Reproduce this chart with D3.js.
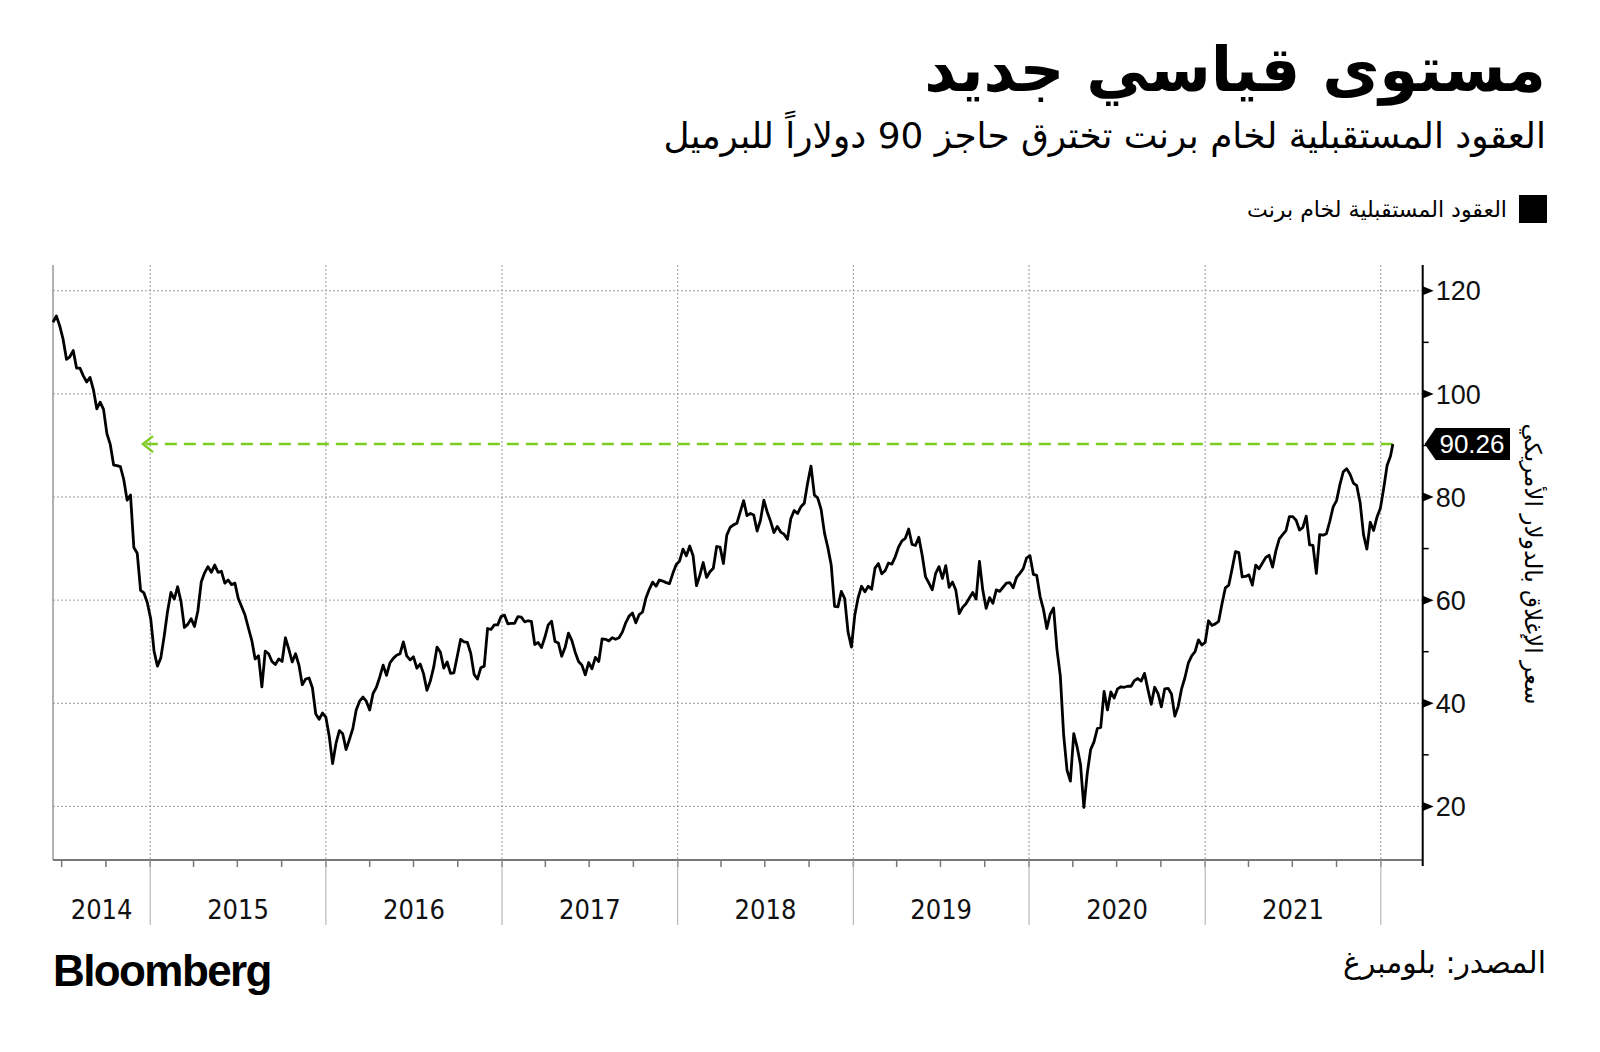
<!DOCTYPE html>
<html>
<head>
<meta charset="utf-8">
<script src="https://cdn.jsdelivr.net/npm/d3@7"></script>
<style>
  body { margin: 0; background: #fff; }
  svg { display: block; }
</style>
</head>
<body>
<script>
var width = 1600;
var height = 1052;

// texts
var title = "مستوى قياسي جديد";
var subtitle = "العقود المستقبلية لخام برنت تخترق حاجز 90 دولاراً للبرميل";
var legendLabel = "العقود المستقبلية لخام برنت";
var axisTitle = "سعر الإغلاق بالدولار الأمريكي";
var sourceText = "المصدر: بلومبرغ";

// Brent front-month, weekly (Fridays) starting from firstFriday
var firstFriday = "2014-06-13";
var brent2014 = [113.9, 115.1, 113.2, 110.6, 106.7, 107.2, 108.4, 105.0, 105.0, 103.5, 102.3, 103.2, 100.8, 97.1,
  98.4, 97.0, 92.3, 90.2, 86.2, 86.1, 85.9, 83.4, 79.4, 80.4, 70.2, 69.1, 61.9, 61.4, 59.5];
var brent2015 = [56.4, 50.1, 47.2, 48.8, 53.0, 57.8, 61.5, 60.2, 62.6, 59.7, 54.7, 55.3, 56.4, 54.9, 57.9, 63.5,
  65.3, 66.5, 65.4, 66.8, 65.4, 65.6, 63.3, 63.9, 63.0, 63.3, 60.3, 58.7, 57.1, 54.6, 52.2, 48.6, 49.2, 43.2,
  50.1, 49.6, 48.1, 47.5, 48.6, 48.1, 52.7, 50.5, 48.0, 49.6, 47.4, 43.6, 44.7, 44.9, 43.0, 37.9, 36.9, 38.1];
var brent2016 = [37.3, 33.6, 28.3, 32.2, 34.7, 34.1, 31.0, 33.0, 35.1, 38.7, 40.4, 41.2, 40.4, 38.7, 41.9, 43.1,
  45.1, 47.4, 45.4, 47.8, 48.7, 49.3, 49.6, 51.9, 49.2, 48.4, 49.0, 46.8, 47.6, 45.7, 42.5, 44.3, 47.0, 50.9,
  49.9, 46.8, 48.0, 45.8, 45.9, 49.1, 52.4, 51.9, 51.8, 49.7, 45.6, 44.7, 46.9, 47.2, 54.5, 54.3, 55.2, 55.2, 56.8];
var brent2017 = [57.1, 55.4, 55.5, 55.5, 56.8, 56.7, 55.8, 56.0, 55.9, 51.4, 51.8, 50.8, 52.8, 55.2, 55.9, 52.0,
  51.7, 49.1, 50.8, 53.6, 52.2, 49.9, 48.1, 47.4, 45.5, 47.9, 46.7, 48.9, 48.1, 52.5, 52.4, 52.1, 52.7, 52.4,
  52.7, 53.8, 55.6, 56.9, 57.5, 55.6, 57.2, 57.7, 60.4, 62.1, 63.5, 62.7, 63.9, 63.7, 63.4, 63.2, 65.2, 66.9];
var brent2018 = [67.6, 69.9, 68.6, 70.5, 68.6, 62.8, 64.8, 67.3, 64.4, 65.5, 66.2, 70.4, 70.3, 67.1, 72.6, 74.1,
  74.6, 74.9, 77.1, 79.3, 76.4, 76.8, 76.5, 73.4, 75.5, 79.4, 77.1, 75.3, 73.1, 74.3, 73.2, 72.8, 71.8, 75.8,
  77.4, 76.8, 78.1, 78.8, 82.7, 86.0, 80.4, 79.8, 77.6, 73.0, 70.2, 66.8, 58.8, 58.7, 61.7, 60.3, 53.8, 50.9];
var brent2019 = [57.1, 60.5, 62.7, 61.6, 62.7, 62.1, 66.2, 67.1, 65.1, 65.7, 67.2, 67.0, 68.4, 70.3, 71.5, 72.0,
  73.8, 70.8, 70.6, 72.2, 68.7, 64.5, 63.3, 62.0, 65.2, 66.5, 64.2, 66.7, 62.5, 63.5, 61.9, 57.4, 58.6, 59.3,
  60.4, 61.5, 60.2, 67.5, 61.9, 58.4, 60.5, 59.4, 62.0, 61.7, 62.5, 63.3, 63.4, 62.4, 64.4, 65.2, 66.1, 68.2];
var brent2020 = [68.6, 65.0, 64.8, 60.7, 58.2, 54.5, 57.3, 58.5, 50.5, 45.3, 33.8, 27.0, 24.9, 34.1, 31.5, 28.1,
  19.8, 26.4, 31.0, 32.5, 35.1, 35.3, 42.3, 38.7, 42.2, 41.0, 42.8, 43.2, 43.1, 43.3, 43.3, 44.4, 44.8, 44.3,
  45.8, 42.7, 39.8, 43.1, 41.9, 39.3, 42.8, 42.9, 41.8, 37.5, 39.4, 42.8, 45.0, 47.8, 49.2, 50.0, 52.3, 51.3];
var brent2021 = [51.8, 56.0, 55.1, 55.4, 55.9, 59.3, 62.4, 62.9, 66.1, 69.4, 69.2, 64.5, 64.6, 64.9, 62.9, 66.8,
  66.1, 67.2, 68.3, 68.7, 66.4, 69.6, 71.9, 72.7, 73.5, 76.2, 76.2, 75.5, 73.6, 74.1, 76.3, 70.7, 70.6, 65.2,
  72.7, 72.6, 72.9, 75.3, 78.1, 79.3, 82.4, 84.9, 85.5, 84.4, 82.7, 82.2, 78.9, 72.7, 69.9, 75.1, 73.5, 76.1, 77.8];
var brent2022 = [81.7, 86.1, 87.9];
var latestDate = "2022-01-26";
var latestValue = 90.26;
var arrowFromDate = "2014-12-17";

var domainStart = "2014-06-13";
var domainEnd = "2022-03-29";
var yDomain = [9.6, 125];
var yTicks = [20, 40, 60, 80, 100, 120];
var yMinorTicks = [30, 50, 70, 90, 110];
var years = [2014, 2015, 2016, 2017, 2018, 2019, 2020, 2021];

var parse = d3.timeParse("%Y-%m-%d");
var arabic = "'DejaVu Sans', sans-serif";
var latin = "'Liberation Sans', Arial, sans-serif";

var values = [].concat(brent2014, brent2015, brent2016, brent2017, brent2018, brent2019, brent2020, brent2021, brent2022);
var data = values.map(function(v, i) {
  return { date: d3.timeFriday.offset(parse(firstFriday), i), value: v };
});
data.push({ date: parse(latestDate), value: latestValue });

var plotLeft = 53, plotRight = 1422.7, plotTop = 265, plotBottom = 860;

var x = d3.scaleTime()
  .domain([parse(domainStart), parse(domainEnd)])
  .range([plotLeft, plotRight]);

var y = d3.scaleLinear()
  .domain(yDomain)
  .range([plotBottom, plotTop]);

var svg = d3.select("body").append("svg")
  .attr("width", width)
  .attr("height", height);

function fit(text, target) {
  var w = text.node().getComputedTextLength();
  var fs = parseFloat(text.attr("font-size"));
  text.attr("font-size", (fs * target / w).toFixed(2));
}

// header
var t = svg.append("text")
  .attr("x", 1546).attr("y", 91)
  .attr("text-anchor", "end")
  .attr("font-family", arabic).attr("font-weight", "bold")
  .attr("font-size", 56)
  .text(title);
fit(t, 622);

var st = svg.append("text")
  .attr("x", 1546).attr("y", 148)
  .attr("text-anchor", "end")
  .attr("font-family", arabic)
  .attr("font-size", 34)
  .text(subtitle);
fit(st, 883);

// legend
svg.append("rect")
  .attr("x", 1519).attr("y", 195)
  .attr("width", 28).attr("height", 28)
  .attr("fill", "#000");
var lt = svg.append("text")
  .attr("x", 1507).attr("y", 217)
  .attr("text-anchor", "end")
  .attr("font-family", arabic)
  .attr("font-size", 20)
  .text(legendLabel);
fit(lt, 260);

// grid
svg.append("g").selectAll("line")
  .data(yTicks)
  .enter().append("line")
  .attr("x1", plotLeft).attr("x2", plotRight)
  .attr("y1", function(d) { return y(d); })
  .attr("y2", function(d) { return y(d); })
  .style("stroke", "#999")
  .style("stroke-width", 1)
  .style("stroke-dasharray", "2,2");

var yearStarts = years.slice(1).concat([2022]).map(function(yr) { return new Date(yr, 0, 1); });

svg.append("g").selectAll("line")
  .data(yearStarts)
  .enter().append("line")
  .attr("x1", function(d) { return x(d); })
  .attr("x2", function(d) { return x(d); })
  .attr("y1", plotTop).attr("y2", plotBottom)
  .style("stroke", "#999")
  .style("stroke-width", 1)
  .style("stroke-dasharray", "2,2");

// left frame line
svg.append("line")
  .attr("x1", plotLeft).attr("x2", plotLeft)
  .attr("y1", plotTop).attr("y2", plotBottom)
  .style("stroke", "#999")
  .style("stroke-width", 1.5);

// bottom axis
svg.append("line")
  .attr("x1", plotLeft).attr("x2", plotRight)
  .attr("y1", plotBottom).attr("y2", plotBottom)
  .style("stroke", "#777")
  .style("stroke-width", 2);

var quarters = d3.timeMonth.every(3).range(x.domain()[0], x.domain()[1]);
svg.append("g").selectAll("line")
  .data(quarters)
  .enter().append("line")
  .attr("x1", function(d) { return x(d); })
  .attr("x2", function(d) { return x(d); })
  .attr("y1", plotBottom).attr("y2", plotBottom + 7)
  .style("stroke", "#777")
  .style("stroke-width", 1.5);

svg.append("g").selectAll("line")
  .data(yearStarts)
  .enter().append("line")
  .attr("x1", function(d) { return x(d); })
  .attr("x2", function(d) { return x(d); })
  .attr("y1", plotBottom).attr("y2", 925)
  .style("stroke", "#aaa")
  .style("stroke-width", 1);

svg.append("g").selectAll("text")
  .data(years)
  .enter().append("text")
  .attr("x", function(d) {
    var a = Math.max(x(new Date(d, 0, 1)), plotLeft);
    var b = x(new Date(d + 1, 0, 1));
    return (a + b) / 2;
  })
  .attr("y", 919)
  .attr("text-anchor", "middle")
  .attr("font-family", "'Liberation Sans Narrow', 'DejaVu Sans Condensed', sans-serif")
  .attr("font-size", 27)
  .attr("fill", "#111")
  .text(function(d) { return d; });

// right axis
svg.append("line")
  .attr("x1", plotRight).attr("x2", plotRight)
  .attr("y1", plotTop).attr("y2", plotBottom + 6)
  .style("stroke", "#000")
  .style("stroke-width", 2);

svg.append("g").selectAll("path")
  .data(yTicks)
  .enter().append("path")
  .attr("d", function(d) {
    var yy = y(d);
    return "M" + plotRight + "," + (yy - 4.5) + "L" + (plotRight + 11) + "," + yy + "L" + plotRight + "," + (yy + 4.5) + "Z";
  })
  .attr("fill", "#000");

svg.append("g").selectAll("line")
  .data(yMinorTicks)
  .enter().append("line")
  .attr("x1", plotRight).attr("x2", plotRight + 6)
  .attr("y1", function(d) { return y(d); })
  .attr("y2", function(d) { return y(d); })
  .style("stroke", "#000")
  .style("stroke-width", 1.5);

svg.append("g").selectAll("text")
  .data(yTicks)
  .enter().append("text")
  .attr("x", plotRight + 13)
  .attr("y", function(d) { return y(d); })
  .attr("dy", "0.36em")
  .attr("font-family", latin)
  .attr("font-size", 27)
  .attr("fill", "#111")
  .text(function(d) { return d; });

var at = svg.append("text")
  .attr("transform", "translate(1533,564) rotate(90)")
  .attr("text-anchor", "middle")
  .attr("dy", "0.35em")
  .attr("font-family", arabic)
  .attr("font-size", 22)
  .text(axisTitle);
fit(at, 281);

// reference line to the latest price
var ly = y(latestValue);
var ax = x(parse(arrowFromDate));
svg.append("line")
  .attr("x1", x(parse(latestDate))).attr("x2", ax)
  .attr("y1", ly).attr("y2", ly)
  .style("stroke", "#7ccc22")
  .style("stroke-width", 2.5)
  .style("stroke-dasharray", "12,7");
svg.append("path")
  .attr("d", "M" + (ax + 10) + "," + (ly - 8) + "L" + ax + "," + ly + "L" + (ax + 10) + "," + (ly + 8))
  .attr("fill", "none")
  .style("stroke", "#7ccc22")
  .style("stroke-width", 2.5);

// price line
var line = d3.line()
  .x(function(d) { return x(d.date); })
  .y(function(d) { return y(d.value); });

svg.append("path")
  .datum(data)
  .attr("d", line)
  .attr("fill", "none")
  .style("stroke", "#000")
  .style("stroke-width", 2.8)
  .style("stroke-linejoin", "round");

// latest value tag
svg.append("path")
  .attr("d", "M" + (plotRight + 2) + "," + ly + "L" + (plotRight + 13) + "," + (ly - 16) + "L1510," + (ly - 16) +
    "L1510," + (ly + 16) + "L" + (plotRight + 13) + "," + (ly + 16) + "Z")
  .attr("fill", "#000");
svg.append("text")
  .attr("x", 1472).attr("y", ly)
  .attr("dy", "0.36em")
  .attr("text-anchor", "middle")
  .attr("font-family", latin)
  .attr("font-size", 26)
  .attr("fill", "#fff")
  .text(latestValue.toFixed(2));

// footer
svg.append("text")
  .attr("x", 53).attr("y", 986)
  .attr("font-family", latin)
  .attr("font-weight", "bold")
  .attr("font-size", 44)
  .attr("letter-spacing", -1.6)
  .attr("fill", "#000")
  .text("Bloomberg");

var so = svg.append("text")
  .attr("x", 1546).attr("y", 973)
  .attr("text-anchor", "end")
  .attr("font-family", arabic)
  .attr("font-size", 28)
  .text(sourceText);
fit(so, 203);
</script>
</body>
</html>
